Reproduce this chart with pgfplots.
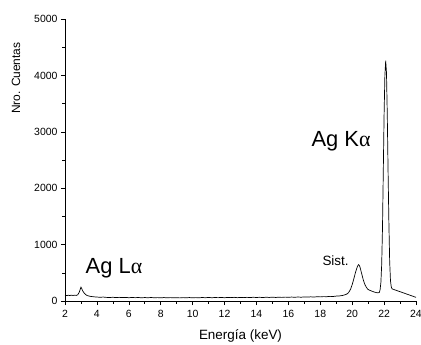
\documentclass[border=0pt]{standalone}
\usepackage{pgfplots}
\pgfplotsset{compat=1.18}
\usepackage{fontspec}
\setmainfont{Liberation Sans}
\newfontfamily\greekserif{Liberation Serif}
\begin{document}
\begin{tikzpicture}
\begin{axis}[
  scale only axis, width=351bp, height=282bp,
  xmin=2, xmax=24, ymin=0, ymax=5000,
  axis x line*=bottom, axis y line*=left,
  xtick={2,4,...,24}, ytick={0,1000,...,5000},
  minor x tick num=1, minor y tick num=1,
  tick align=outside, major tick length=4bp, minor tick length=2.5bp,
  tick style={black, line width=0.6pt},
  axis line style={line width=0.8pt},
  scaled y ticks=false,
  /pgf/number format/assume math mode=true,
  /pgf/number format/set thousands separator={},
  ticklabel style={font=\fontsize{10.5}{12}\selectfont},
  xticklabel style={yshift=-2bp},
  xlabel={Energía (keV)}, ylabel={Nro. Cuentas},
  xlabel style={font=\fontsize{13.5}{15}\selectfont, at={(axis description cs:0.5,0)}, anchor=center, yshift=-35bp},
  ylabel style={font=\fontsize{12}{14}\selectfont, at={(axis description cs:-0.1396,0.79)}, anchor=center},
  clip=false,
]
\addplot[black, line width=0.7pt] coordinates {
(2.0,100)(2.1,95)(2.2,102)(2.3,97)(2.4,104)(2.5,98)(2.6,103)(2.7,99)(2.8,110)(2.9,160)
(3.0,245)(3.05,220)(3.1,185)(3.2,140)(3.3,112)(3.4,96)(3.5,88)(3.6,82)(3.7,78)(3.8,75)(3.9,72)
(4.0,70)(4.2,66)(4.4,70)(4.6,64)(4.8,62)(5.0,66)(5.2,61)(5.4,65)(5.6,60)(5.8,64)
(6.0,58)(6.2,63)(6.4,59)(6.6,62)(6.8,57)(7.0,61)(7.2,58)(7.4,62)(7.6,57)(7.8,60)
(8.0,56)(8.2,61)(8.4,57)(8.6,60)(8.8,56)(9.0,59)(9.2,55)(9.4,60)(9.6,57)(9.8,61)
(10.0,56)(10.2,60)(10.4,57)(10.6,62)(10.8,58)(11.0,63)(11.2,58)(11.4,62)(11.6,59)(11.8,63)
(12.0,58)(12.2,64)(12.4,60)(12.6,65)(12.8,59)(13.0,63)(13.2,60)(13.4,65)(13.6,61)(13.8,66)
(14.0,62)(14.2,66)(14.4,61)(14.6,67)(14.8,63)(15.0,68)(15.2,63)(15.4,67)(15.6,64)(15.8,69)
(16.0,65)(16.2,70)(16.4,66)(16.6,71)(16.8,67)(17.0,72)(17.2,69)(17.4,74)(17.6,70)(17.8,76)
(18.0,73)(18.2,78)(18.4,76)(18.6,82)(18.8,80)(19.0,87)(19.2,90)(19.4,98)(19.6,115)(19.7,130)
(19.8,160)(19.9,210)(20.0,290)(20.1,390)(20.2,500)(20.3,590)(20.35,625)(20.4,645)(20.45,630)
(20.5,590)(20.6,480)(20.7,370)(20.8,290)(20.9,235)(21.0,205)(21.1,190)(21.2,178)(21.3,168)
(21.4,158)(21.5,150)(21.6,145)(21.7,150)(21.75,200)(21.8,330)(21.85,650)(21.9,1300)(21.95,2300)
(22.0,3300)(22.05,4000)(22.1,4260)(22.15,4050)(22.2,3300)(22.25,2300)(22.3,1400)(22.35,700)
(22.4,360)(22.45,250)(22.5,215)(22.6,205)(22.7,195)(22.8,185)(22.9,175)(23.0,165)(23.1,155)
(23.2,145)(23.3,135)(23.4,125)(23.5,115)(23.6,105)(23.7,95)(23.8,85)(23.9,75)(24.0,65)
};
\node at (axis cs:5.07,585) {\fontsize{22}{26}\selectfont Ag L{\greekserif α}};
\node at (axis cs:19.3,2837) {\fontsize{22}{26}\selectfont Ag K{\greekserif α}};
\node at (axis cs:18.96,709) {\fontsize{13.5}{15}\selectfont Sist.};
\end{axis}
\pgfresetboundingbox
\path (-65bp,-44bp) rectangle (356bp,301bp);
\end{tikzpicture}
\end{document}
